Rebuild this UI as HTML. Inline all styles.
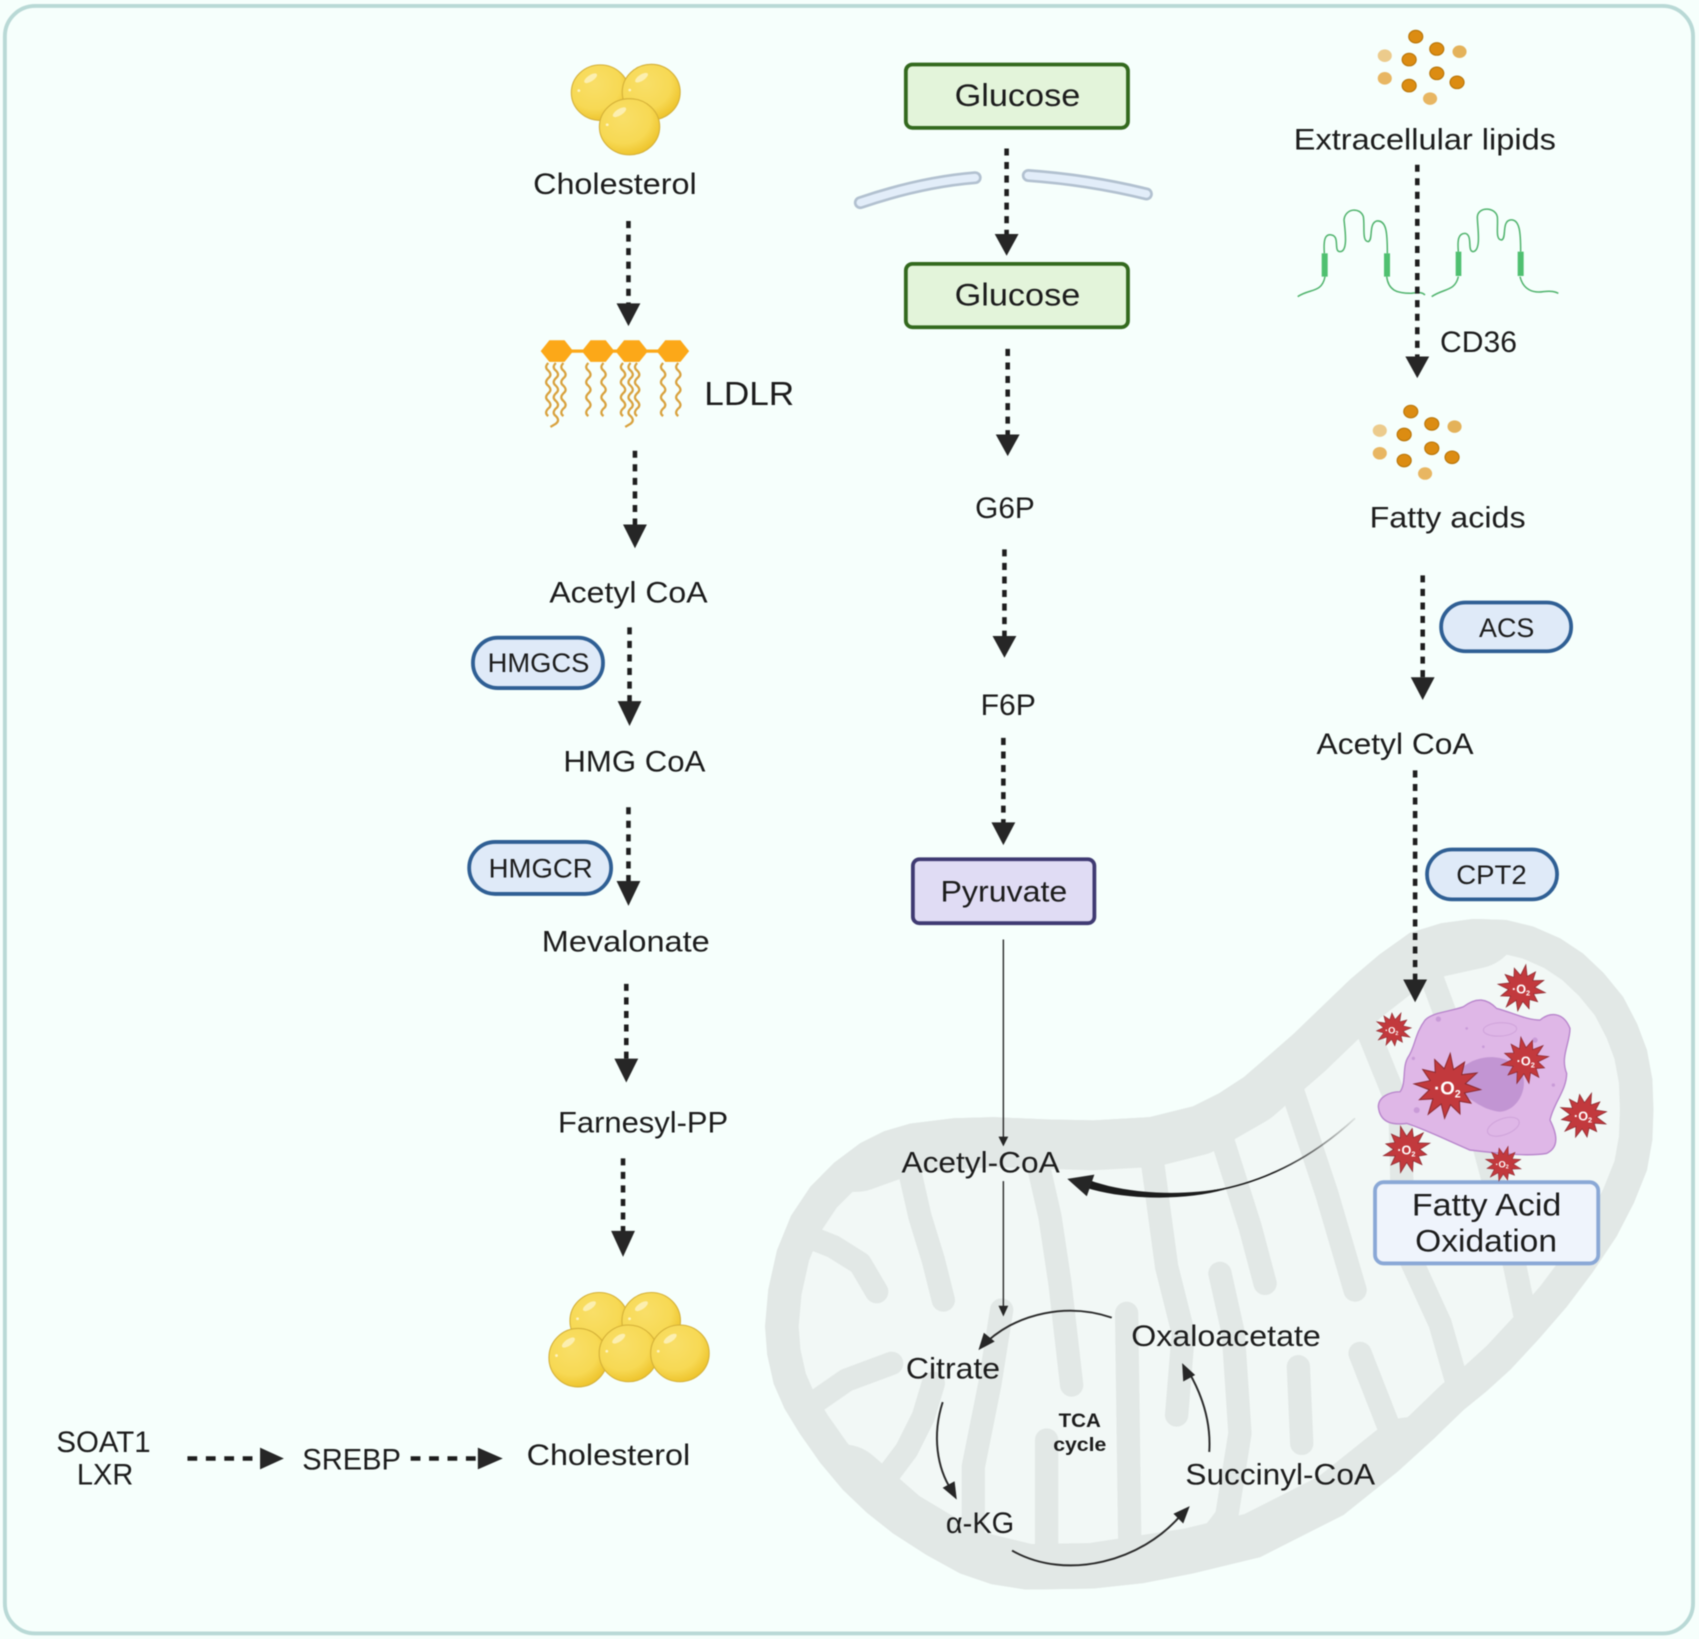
<!DOCTYPE html>
<html><head><meta charset="utf-8"><style>
html,body{margin:0;padding:0;background:#f6fffc}
svg{display:block;filter:blur(.5px)}
text{font-family:"Liberation Sans",sans-serif;fill:#1c1c1c;font-size:27px}
.h{fill:#262626}
.d{fill:none;stroke:#1e1e1e;stroke-width:4.2;stroke-dasharray:6.5 6}
.dh{fill:none;stroke:#1e1e1e;stroke-width:4.2;stroke-dasharray:9 8}
.t{fill:none;stroke:#2a2a2a;stroke-width:1.3}
.c{fill:none;stroke:#2a2a2a;stroke-width:1.8}
.cr{fill:none;stroke:#e2e8e6;stroke-linecap:round;stroke-linejoin:round;stroke-width:70}
.pill{fill:#dfeaf8;stroke:#2f5f94;stroke-width:3.5}
.g{fill:#e3f4da;stroke:#33691e;stroke-width:3.5}
</style></head><body>
<svg xmlns="http://www.w3.org/2000/svg" width="1699" height="1639" viewBox="0 0 1568 1512.6" preserveAspectRatio="none">
<defs>
<radialGradient id="y" cx=".4" cy=".35" r=".72"><stop offset="0" stop-color="#f9df68"/><stop offset=".62" stop-color="#f7d954"/><stop offset=".9" stop-color="#efc630"/><stop offset="1" stop-color="#e8bd28"/></radialGradient>
<linearGradient id="fade" gradientUnits="userSpaceOnUse" x1="1250" y1="1032" x2="1175" y2="1082"><stop offset="0" stop-color="#1c1c1c" stop-opacity=".1"/><stop offset="1" stop-color="#1c1c1c"/></linearGradient>
<clipPath id="mc"><polygon points="706,1224 709,1190 717,1154 730,1122 748,1095 770,1073 794,1055 816,1044 840,1037 880,1032 917,1031 965,1033 1009,1034 1061,1031 1101,1021 1125,1009 1148,994 1170,975 1194,954 1220,929 1246,904 1273,881 1301,861 1330,852 1360,848 1390,849 1415,855 1440,866 1461,880 1480,898 1498,920 1511,945 1520,969 1525,996 1526,1024 1525,1052 1520,1080 1508,1110 1492,1141 1470,1174 1446,1206 1420,1236 1394,1264 1372,1284 1351,1301 1323,1328 1290,1358 1240,1398 1163,1437 1101,1452 1055,1461 1009,1466 947,1467 915,1462 886,1452 855,1435 824,1415 800,1396 778,1375 757,1350 738,1323 724,1300 714,1277 708,1250"/></clipPath>
<g id="ball"><circle r="27" fill="url(#y)" stroke="#d4b038" stroke-width="1"/><ellipse cx="-9" cy="-14" rx="7" ry="3" transform="rotate(-35 -9 -14)" fill="#fcefb0"/><circle cx="-20" cy="-2" r="1.3" fill="#fdf3c0"/></g>
<path id="tail" d="M0,0 q-4,4 0,7 q4,4 0,7 q-4,4 0,7 q4,4 0,7 q-4,4 0,7 q4,4 0,7 q-4,4 0,7" fill="none" stroke="#d9a23e" stroke-width="2.1"/>
<path id="tailL" d="M0,0 q-4,4 0,7 q4,4 0,7 q-4,4 0,7 q4,4 0,7 q-4,4 0,7 q4,4 0,7 q-4,4 0,7 q4,4 0,7 l-5,3" fill="none" stroke="#d9a23e" stroke-width="2.1"/>
<g id="lip">
<ellipse cx="1306.6" cy="33.8" rx="6.5" ry="5.8" fill="#dc8c12" stroke="#b87508"/>
<ellipse cx="1326" cy="45.2" rx="6.5" ry="5.8" fill="#dc8c12" stroke="#b87508"/>
<ellipse cx="1347" cy="47.7" rx="6.5" ry="5.8" fill="#e4b25a"/>
<ellipse cx="1278" cy="51.4" rx="6.5" ry="5.8" fill="#eccb8c"/>
<ellipse cx="1300.5" cy="55" rx="6.5" ry="5.8" fill="#dc8c12" stroke="#b87508"/>
<ellipse cx="1326" cy="67.7" rx="6.5" ry="5.8" fill="#dc8c12" stroke="#b87508"/>
<ellipse cx="1344.7" cy="76" rx="6.5" ry="5.8" fill="#dc8c12" stroke="#b87508"/>
<ellipse cx="1278" cy="72.3" rx="6.5" ry="5.8" fill="#e8b662"/>
<ellipse cx="1300.5" cy="79" rx="6.5" ry="5.8" fill="#dc8c12" stroke="#b87508"/>
<ellipse cx="1319.8" cy="91" rx="6.5" ry="5.8" fill="#e8b662"/>
</g>
<polygon id="st" fill="#c2393d" stroke="#8a2a30" stroke-width="3" points="100,0 53,14 75,43 40,40 45,78 14,53 0,95 -14,53 -50,87 -40,40 -80,46 -53,14 -100,0 -53,-14 -78,-45 -40,-40 -45,-78 -14,-53 0,-100 14,-53 45,-78 40,-40 85,-49 53,-14"/>
</defs>

<rect x="0" y="0" width="1568" height="1513" fill="#f6fffc"/>
<rect x="4.5" y="5.5" width="1558" height="1502" rx="28" fill="#f6fffc" stroke="#b9d9d6" stroke-width="3.6"/>

<!-- mitochondrion -->
<g clip-path="url(#mc)">
<polygon points="706,1224 709,1190 717,1154 730,1122 748,1095 770,1073 794,1055 816,1044 840,1037 880,1032 917,1031 965,1033 1009,1034 1061,1031 1101,1021 1125,1009 1148,994 1170,975 1194,954 1220,929 1246,904 1273,881 1301,861 1330,852 1360,848 1390,849 1415,855 1440,866 1461,880 1480,898 1498,920 1511,945 1520,969 1525,996 1526,1024 1525,1052 1520,1080 1508,1110 1492,1141 1470,1174 1446,1206 1420,1236 1394,1264 1372,1284 1351,1301 1323,1328 1290,1358 1240,1398 1163,1437 1101,1452 1055,1461 1009,1466 947,1467 915,1462 886,1452 855,1435 824,1415 800,1396 778,1375 757,1350 738,1323 724,1300 714,1277 708,1250" fill="#f2f8f6" stroke="#e2e8e6" stroke-width="62" stroke-linejoin="round"/>
<g class="cr" style="stroke-width:84">
<polyline points="790,1058 840,1040 917,1035 1009,1038 1061,1035 1101,1025 1148,998 1194,958 1246,908 1301,865 1360,852"/>
<polyline points="778,1375 824,1415 886,1452 947,1467 1009,1466 1101,1452 1163,1437 1240,1398 1300,1350"/>
</g>
<g class="cr" transform="translate(701.4,1015.2) scale(.3076)">
<path d="M430,130 L480,350 L520,480 L550,600"/>
<path d="M120,400 L220,440 L300,490 L350,575"/>
<path d="M130,930 L260,840 L395,790"/>
<path d="M350,1170 L440,1050 L490,950 L520,850"/>
<path d="M640,1340 L640,1100 L690,850 L725,630"/>
<path d="M860,1370 L860,1020"/>
<path d="M1110,1370 L1100,640"/>
<path d="M820,130 L870,350 L900,550 L935,855"/>
<path d="M1170,130 L1220,500 L1270,700 L1250,945"/>
<path d="M1380,520 L1420,700 L1440,1000 L1400,1250 L1300,1380"/>
</g>
<g class="cr" transform="translate(1061.4,839.9) scale(.3076)">
<path d="M205,650 L300,950 L345,1120"/>
<path d="M420,520 L530,850 L615,1140"/>
<path d="M620,280 L750,600 L760,1000 L870,1240 L930,1450"/>
<path d="M800,80 L900,350 L1000,700 L1080,1000 L1130,1240 L1000,1400"/>
<path d="M630,1330 L720,1560"/>
<path d="M445,1370 L455,1600"/>
</g>
</g>

<!-- cholesterol -->
<use href="#ball" transform="translate(554,85.5) scale(.99,.95)"/><use href="#ball" transform="translate(601,85) scale(.99,.95)"/><use href="#ball" transform="translate(581,117) scale(1.03,.96)"/>
<use href="#ball" transform="translate(553,1219) scale(1,.97)"/><use href="#ball" transform="translate(601,1219) scale(1,.97)"/>
<use href="#ball" transform="translate(533.6,1253)"/><use href="#ball" transform="translate(580,1249) scale(1,.97)"/><use href="#ball" transform="translate(627.5,1249) scale(1,.97)"/>

<!-- LDLR -->
<path d="M514,324H621" stroke="#fca818" stroke-width="3"/>
<g fill="#fca818"><polygon points="499,324 507,314 521,314 529,324 521,334 507,334"/><polygon points="537,324 545,314 559,314 567,324 559,334 545,334"/><polygon points="568,324 576,314 590,314 598,324 590,334 576,334"/><polygon points="606,324 614,314 628,314 636,324 628,334 614,334"/></g>
<use href="#tail" x="506" y="335"/><use href="#tailL" x="513" y="335"/><use href="#tail" x="520" y="335"/>
<use href="#tail" x="543" y="335"/><use href="#tail" x="557" y="335"/>
<use href="#tail" x="575" y="335"/><use href="#tailL" x="582" y="335"/><use href="#tail" x="588" y="335"/>
<use href="#tail" x="612" y="335"/><use href="#tail" x="626" y="335"/>

<!-- lipids -->
<use href="#lip"/><use href="#lip" transform="translate(-4.6,346)"/>

<!-- membrane -->
<path d="M794,187 Q850,168 900,164" fill="none" stroke="#b2c1d0" stroke-width="12" stroke-linecap="round"/>
<path d="M794,187 Q850,168 900,164" fill="none" stroke="#e2edf9" stroke-width="7" stroke-linecap="round"/>
<path d="M949,162 Q1005,166 1058,179" fill="none" stroke="#b2c1d0" stroke-width="12" stroke-linecap="round"/>
<path d="M949,162 Q1005,166 1058,179" fill="none" stroke="#e2edf9" stroke-width="7" stroke-linecap="round"/>

<!-- CD36 -->
<g transform="translate(1172.1,18.46) scale(.3076)">
<path fill="none" stroke="#4fb36c" stroke-width="4.5" d="M83,830 C120,805 155,820 165,770 M163,700 C160,660 165,640 185,645 C210,650 190,695 210,695 C235,695 225,630 222,600 C225,565 270,560 280,590 C285,620 275,665 295,665 C310,660 295,610 320,603 C350,600 352,640 352,700 M350,770 C355,810 380,820 420,820 C445,818 455,815 465,825"/>
<path fill="none" stroke="#4fb36c" stroke-width="4.5" d="M485,830 C520,805 555,815 565,770 M565,695 C562,660 565,640 585,640 C610,645 590,695 610,695 C635,690 622,620 622,590 C625,560 675,560 682,590 C685,620 675,660 695,660 C710,655 695,605 720,600 C750,595 752,640 752,695 M750,770 C760,810 790,820 820,815 C845,812 855,815 865,820"/>
<g fill="#4fc070"><rect x="155" y="700" width="18" height="70"/><rect x="342" y="700" width="18" height="70"/><rect x="557" y="695" width="17" height="73"/><rect x="743" y="695" width="18" height="73"/></g>
</g>

<!-- boxes -->
<rect class="g" x="836" y="59.5" width="205" height="58.5" rx="6"/>
<rect class="g" x="836" y="243.5" width="205" height="58.5" rx="6"/>
<rect x="842.5" y="793" width="167.5" height="59" rx="6" fill="#e0dcf4" stroke="#3f3a72" stroke-width="3.5"/>
<rect x="1269" y="1091" width="206" height="75" rx="8" fill="#eff4fc" stroke="#8aa8d6" stroke-width="3.5"/>
<rect class="pill" x="436.5" y="588.5" width="120" height="46.5" rx="23"/>
<rect class="pill" x="433" y="777" width="131" height="48" rx="24"/>
<rect class="pill" x="1330" y="556" width="120" height="45" rx="22.5"/>
<rect class="pill" x="1317" y="784" width="120" height="46" rx="23"/>

<!-- dashed arrows -->
<path class="d" d="M580,204V281M586,416V485M581,579V648M580,745V814M578,908V978M575,1069V1137M929,137V218M930,322V402M927,507V588M926,681V760M1308,152V330M1313,531V626M1306,711V905"/>
<path class="dh" d="M173,1346H241M379,1346H442"/>
<g class="h">
<polygon points="569,280 591,280 580,301"/><polygon points="575,484 597,484 586,506"/><polygon points="570,647 592,647 581,670"/><polygon points="569,813 591,813 580,836"/><polygon points="567,977 589,977 578,999"/><polygon points="564,1136 586,1136 575,1160"/>
<polygon points="918,216 940,216 929,236"/><polygon points="919,401 941,401 930,421"/><polygon points="916,587 938,587 927,607"/><polygon points="915,759 937,759 926,780"/>
<polygon points="1297,329 1319,329 1308,349"/><polygon points="1302,625 1324,625 1313,646"/><polygon points="1295,904 1317,904 1306,925"/>
<polygon points="240,1336 240,1356 262,1346"/><polygon points="441,1336 441,1356 464,1346"/>
</g>

<!-- thin arrows -->
<path class="t" d="M926,867V1052M926,1090V1207"/>
<polygon class="h" points="921.5,1049 930.5,1049 926,1058"/><polygon class="h" points="921.5,1205 930.5,1205 926,1215"/>
<path d="M1250.6,1032 C1205,1074 1160,1092 1120,1099" fill="none" stroke="url(#fade)" stroke-width="1.5"/>
<path d="M1130,1096.5 C1090,1104 1040,1102 1005,1089 L1002,1096 C1040,1108 1095,1108 1130,1097.8 Z" fill="#1c1c1c"/>
<polygon class="h" points="985,1088 1010,1084 1003,1104"/>
<path class="c" d="M1026,1216 C985,1202 940,1212 911,1238"/><polygon class="h" points="903,1246 918,1238 908,1230"/>
<path class="c" d="M870,1294 C860,1325 865,1355 878,1375"/><polygon class="h" points="883,1384 881,1367 870,1373"/>
<path class="c" d="M934,1431 C985,1460 1055,1440 1090,1398"/><polygon class="h" points="1098,1390 1083,1397 1092,1406"/>
<path class="c" d="M1116,1340 C1118,1310 1108,1285 1097,1266"/><polygon class="h" points="1091,1258 1092,1275 1103,1269"/>

<!-- cell -->
<g transform="translate(1236.7,867.6) scale(.3076)">
<path d="M115,500 C115,470 150,455 180,455 C200,430 185,380 205,350 C225,320 225,280 255,240 C280,215 330,215 370,200 C410,170 440,175 470,205 C510,215 560,240 600,240 C630,215 670,215 690,265 C690,310 660,350 680,400 C680,450 640,490 630,540 C650,580 660,620 620,640 C560,650 480,640 390,630 C320,600 260,570 200,550 C160,555 120,550 115,500 Z" fill="#dfb7e7" stroke="#b784cb" stroke-width="4"/>
<path d="M370,380 C420,340 500,340 540,390 C570,430 540,510 480,515 C430,510 400,480 370,465 Z" fill="#c295d3"/>
<g fill="none" stroke="#cfa3da" stroke-width="3"><ellipse cx="480" cy="268" rx="50" ry="20" transform="rotate(-3 480 268)"/><ellipse cx="490" cy="560" rx="50" ry="24" transform="rotate(-20 490 560)"/></g>
<g fill="#c99bd8"><circle cx="295" cy="237" r="8"/><circle cx="585" cy="300" r="8"/><circle cx="230" cy="510" r="9"/><circle cx="640" cy="435" r="5"/><circle cx="380" cy="265" r="4"/><circle cx="220" cy="355" r="5"/><circle cx="430" cy="320" r="4"/></g>
<g><use href="#st" transform="translate(545,145) rotate(10) scale(.72)"/><use href="#st" transform="translate(160,268) rotate(25) scale(.55)"/><use href="#st" transform="translate(555,362) rotate(-10) scale(.72)"/><use href="#st" transform="translate(322,440) rotate(5)"/><use href="#st" transform="translate(730,527) rotate(20) scale(.72)"/><use href="#st" transform="translate(200,628) rotate(-15) scale(.72)"/><use href="#st" transform="translate(490,672) rotate(15) scale(.55)"/></g>
<text x="516" y="160" style="fill:#fff;font-size:38px;font-weight:bold">·O<tspan font-size="22" dy="6">2</tspan></text>
<text x="135" y="280" style="fill:#fff;font-size:28px;font-weight:bold">·O<tspan font-size="16" dy="4">2</tspan></text>
<text x="530" y="376" style="fill:#fff;font-size:38px;font-weight:bold">·O<tspan font-size="22" dy="6">2</tspan></text>
<text x="282" y="464" style="fill:#fff;font-size:56px;font-weight:bold">·O<tspan font-size="32" dy="8">2</tspan></text>
<text x="702" y="542" style="fill:#fff;font-size:38px;font-weight:bold">·O<tspan font-size="22" dy="6">2</tspan></text>
<text x="172" y="643" style="fill:#fff;font-size:38px;font-weight:bold">·O<tspan font-size="22" dy="6">2</tspan></text>
<text x="466" y="682" style="fill:#fff;font-size:28px;font-weight:bold">·O<tspan font-size="16" dy="4">2</tspan></text>
</g>

<!-- labels -->
<g>
<text x="492" y="179" textLength="151" lengthAdjust="spacingAndGlyphs">Cholesterol</text>
<text x="650" y="374" textLength="83" lengthAdjust="spacingAndGlyphs" style="font-size:31px">LDLR</text>
<text x="507" y="556" textLength="146" lengthAdjust="spacingAndGlyphs">Acetyl CoA</text>
<text x="520" y="712" textLength="131" lengthAdjust="spacingAndGlyphs">HMG CoA</text>
<text x="500" y="878" textLength="155" lengthAdjust="spacingAndGlyphs">Mevalonate</text>
<text x="515" y="1045" textLength="157" lengthAdjust="spacingAndGlyphs">Farnesyl-PP</text>
<text x="450" y="620" textLength="94" lengthAdjust="spacingAndGlyphs" style="font-size:25px">HMGCS</text>
<text x="451" y="810" textLength="96" lengthAdjust="spacingAndGlyphs" style="font-size:25px">HMGCR</text>
<text x="881" y="98" textLength="116" lengthAdjust="spacingAndGlyphs" style="font-size:29px">Glucose</text>
<text x="881" y="282" textLength="116" lengthAdjust="spacingAndGlyphs" style="font-size:29px">Glucose</text>
<text x="900" y="478" textLength="55" lengthAdjust="spacingAndGlyphs">G6P</text>
<text x="905" y="660" textLength="51" lengthAdjust="spacingAndGlyphs">F6P</text>
<text x="868" y="832" textLength="117" lengthAdjust="spacingAndGlyphs">Pyruvate</text>
<text x="1194" y="138" textLength="242" lengthAdjust="spacingAndGlyphs">Extracellular lipids</text>
<text x="1329" y="325" textLength="71" lengthAdjust="spacingAndGlyphs">CD36</text>
<text x="1264" y="487" textLength="144" lengthAdjust="spacingAndGlyphs">Fatty acids</text>
<text x="1365" y="588" textLength="51" lengthAdjust="spacingAndGlyphs" style="font-size:25px">ACS</text>
<text x="1215" y="696" textLength="145" lengthAdjust="spacingAndGlyphs">Acetyl CoA</text>
<text x="1344" y="816" textLength="65" lengthAdjust="spacingAndGlyphs" style="font-size:25px">CPT2</text>
<text x="1303" y="1122" textLength="138" lengthAdjust="spacingAndGlyphs" style="font-size:29px">Fatty Acid</text>
<text x="1306" y="1155" textLength="131" lengthAdjust="spacingAndGlyphs" style="font-size:29px">Oxidation</text>
<text x="832" y="1082" textLength="146" lengthAdjust="spacingAndGlyphs">Acetyl-CoA</text>
<text x="836" y="1272" textLength="87" lengthAdjust="spacingAndGlyphs">Citrate</text>
<text x="1044" y="1242" textLength="175" lengthAdjust="spacingAndGlyphs">Oxaloacetate</text>
<text x="1094" y="1370" textLength="175" lengthAdjust="spacingAndGlyphs">Succinyl-CoA</text>
<text x="873" y="1415" textLength="63" lengthAdjust="spacingAndGlyphs">α-KG</text>
<text x="977" y="1317" textLength="39" lengthAdjust="spacingAndGlyphs" style="font-size:18px;font-weight:bold">TCA</text>
<text x="972" y="1339" textLength="49" lengthAdjust="spacingAndGlyphs" style="font-size:18px;font-weight:bold">cycle</text>
<text x="52" y="1340" textLength="87" lengthAdjust="spacingAndGlyphs">SOAT1</text>
<text x="71" y="1370" textLength="52" lengthAdjust="spacingAndGlyphs">LXR</text>
<text x="279" y="1356" textLength="91" lengthAdjust="spacingAndGlyphs">SREBP</text>
<text x="486" y="1352" textLength="151" lengthAdjust="spacingAndGlyphs">Cholesterol</text>
</g>
</svg>
</body></html>
